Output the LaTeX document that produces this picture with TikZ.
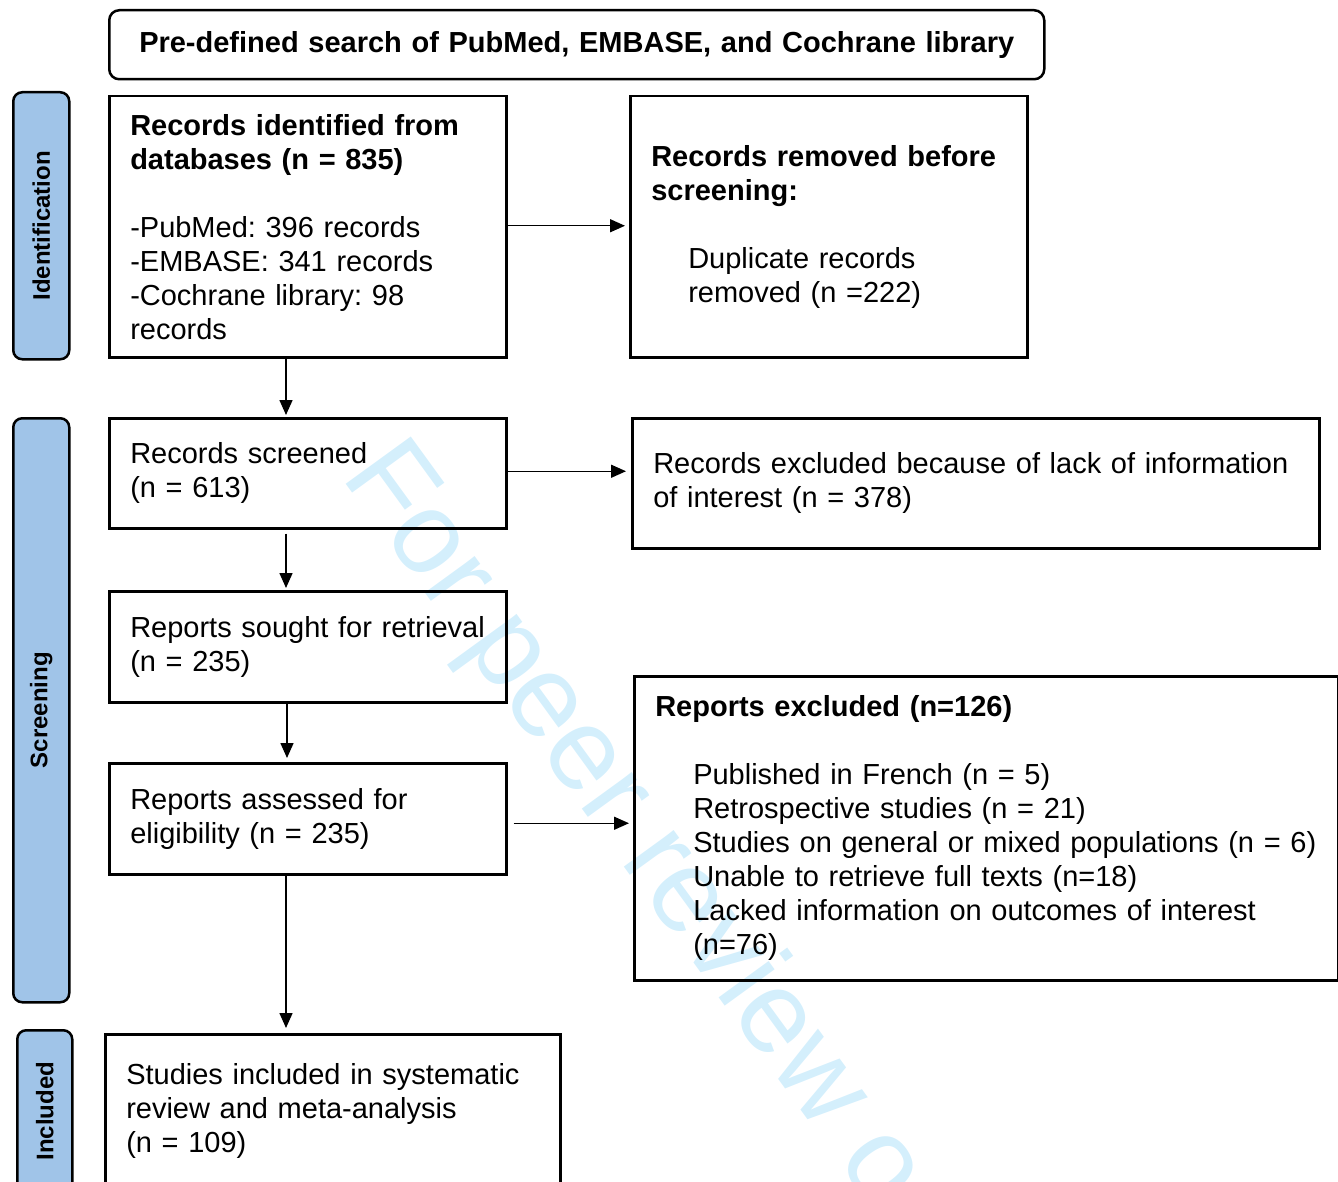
\documentclass[tikz,border=0pt]{standalone}
\usepackage{fontspec}
\setmainfont{Liberation Sans}
\usetikzlibrary{arrows.meta,calc}
\definecolor{phaseblue}{RGB}{160,196,232}
\definecolor{wmark}{RGB}{212,239,252}
\begin{document}
\frenchspacing
\begin{tikzpicture}[x=1pt,y=-1pt,
  box/.style={draw, line width=2.5pt, align=left, anchor=north west, inner xsep=21pt, inner ysep=0pt, font=\fontsize{29}{34}\selectfont},
  phase/.style={draw, line width=2.5pt, fill=phaseblue, rounded corners=9pt, anchor=north west, inner sep=0pt},
  phasetext/.style={rotate=90, font=\bfseries\fontsize{24}{28}\selectfont},
  arr/.style={line width=1.5pt, -{Triangle[length=15pt,width=13pt]}}
]
\useasboundingbox (0,0) rectangle (1338,1182);
\clip (0,0) rectangle (1338,1182);
% watermark
\node[anchor=base west, rotate=-54, text=wmark, font=\fontsize{117}{120}\selectfont, inner sep=0pt] (wm) at (340,476) {For peer review o};
% phase labels
\node[phase, minimum width=56pt, minimum height=267pt] (identP) at (12,91) {};
\node[phasetext] (identT) at (identP.center) {Identification};
\node[phase, minimum width=56pt, minimum height=584pt] (screenP) at (12,417) {};
\node[phasetext] (screenT) at (screenP.center) {Screening};
\node[phase, minimum width=55pt, minimum height=170pt] (inclP) at (16,1029) {};
\node[phasetext] (inclT) at ([yshift=4pt]inclP.center) {Included};
% boxes
\node[box, rounded corners=10pt, align=center, text width=893pt, minimum height=69pt] (search) at (108,9) {\textbf{Pre-defined search of PubMed, EMBASE, and Cochrane library}};
\node[box, text width=355pt, minimum height=261pt] (id) at (108,95) {\textbf{Records identified from}\\\textbf{databases (n = 835)}\\[34pt]-PubMed: 396 records\\-EMBASE: 341 records\\-Cochrane library: 98\\records};
\node[box, text width=355pt, minimum height=261pt] (rem) at (629,95) {\textbf{Records removed before}\\\textbf{screening:}\\[34pt]\hspace*{37pt}Duplicate records\\\hspace*{37pt}removed (n =222)};
\node[box, text width=355pt, minimum height=110pt] (scr) at (108,417) {Records screened\\(n = 613)};
\node[box, text width=645pt, minimum height=130pt] (excl) at (631,417) {Records excluded because of lack of information\\of interest (n = 378)};
\node[box, text width=355pt, minimum height=111pt] (sought) at (108,590) {Reports sought for retrieval\\(n = 235)};
\node[box, text width=355pt, minimum height=111pt] (ass) at (108,762) {Reports assessed for\\eligibility (n = 235)};
\node[box, text width=662pt, minimum height=304pt] (rexc) at (633,675) {\textbf{Reports excluded (n=126)}\\[34pt]\hspace*{38pt}Published in French (n = 5)\\\hspace*{38pt}Retrospective studies (n = 21)\\\hspace*{38pt}Studies on general or mixed populations (n = 6)\\\hspace*{38pt}Unable to retrieve full texts (n=18)\\\hspace*{38pt}Lacked information on outcomes of interest\\\hspace*{38pt}(n=76)};
\node[box, text width=413pt, minimum height=154pt] (incl) at (104,1033) {Studies included in systematic\\review and meta-analysis\\(n = 109)};
% connectors
\draw[arr] ([yshift=1pt]id.east) -- ([yshift=1pt,xshift=-4pt]rem.west);
\draw[arr, shorten >=2pt] ([xshift=178pt]id.south west) -- ([xshift=178pt]scr.north west);
\draw[arr] ([yshift=2pt]scr.east) -- ([yshift=2pt,xshift=-5pt]scr.east -| excl.west);
\draw[arr, shorten >=2pt] ([xshift=178pt,yshift=-4pt]scr.south west) -- ([xshift=178pt]sought.north west);
\draw[arr, shorten >=4pt] ([xshift=179pt]sought.south west) -- ([xshift=179pt]ass.north west);
\draw[arr] ([xshift=6pt,yshift=-4.5pt]ass.east) -- ([yshift=-4.5pt,xshift=-4pt]ass.east -| rexc.west);
\draw[arr, shorten >=5pt] ([xshift=178pt]ass.south west) -- ([xshift=182pt]incl.north west);
\end{tikzpicture}
\end{document}
